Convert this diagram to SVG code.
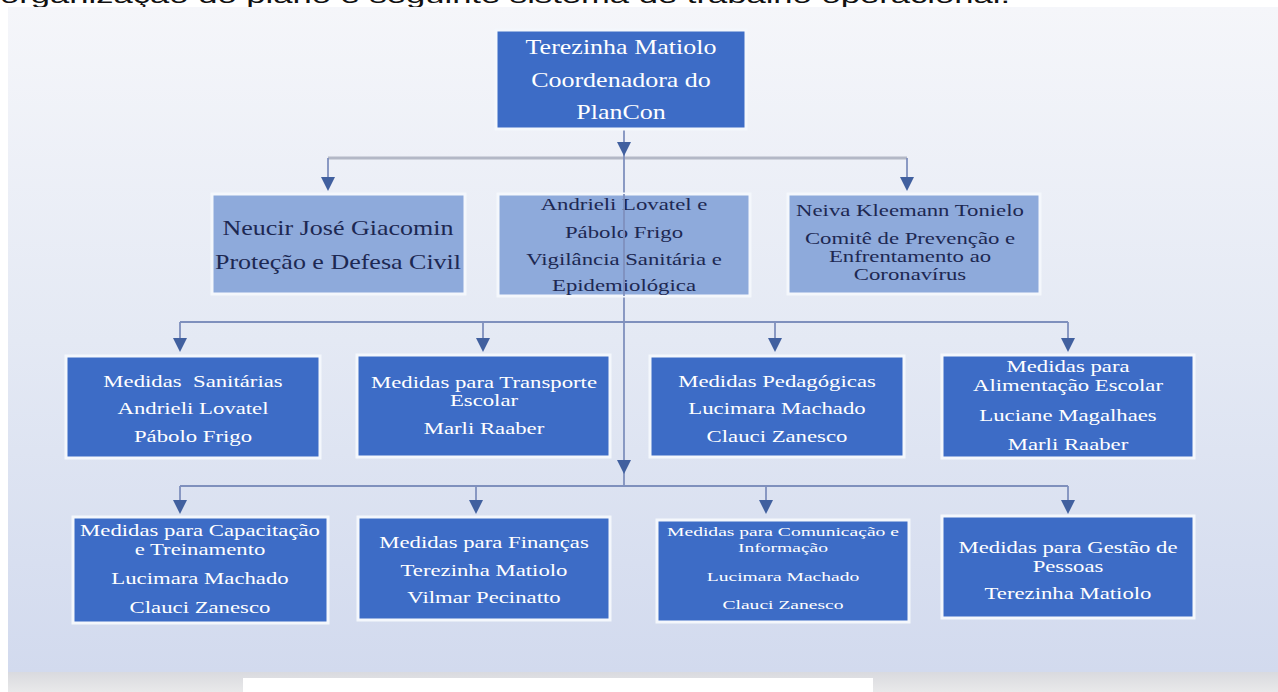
<svg xmlns="http://www.w3.org/2000/svg" xmlns:xlink="http://www.w3.org/1999/xlink" width="1278" height="692" viewBox="0 0 1278 692">
<defs>
<linearGradient id="bg" x1="0" y1="0" x2="0" y2="1">
<stop offset="0" stop-color="#f5f6fa"/>
<stop offset="0.5" stop-color="#e4e9f4"/>
<stop offset="1" stop-color="#d2daee"/>
</linearGradient>
<linearGradient id="strip" x1="0" y1="0" x2="0" y2="1">
<stop offset="0" stop-color="#d9dadf"/>
<stop offset="1" stop-color="#e9e9ea"/>
</linearGradient>
<path id="ah" d="M-7,0 L7,0 L0,14 Z"/>
<style>
.dark{fill:#3d6cc6;stroke:#f4f7fc;stroke-width:3}
.light{fill:#8eaadb;stroke:#f4f7fc;stroke-width:3}
.wt{fill:#ffffff;font-family:"Liberation Serif","Times New Roman",serif;text-anchor:middle}
.bt{fill:#1d2852;font-family:"Liberation Serif","Times New Roman",serif;text-anchor:middle}
.thick{stroke:#b3b8c6;stroke-width:3;fill:none}
.thin{stroke:#7f90bd;stroke-width:1.8;fill:none}
.arr{fill:#41609f}
</style>
</defs>
<rect x="0" y="0" width="1278" height="692" fill="#ffffff"/>
<text x="0" y="3" font-family="Liberation Sans, Arial, sans-serif" font-size="22" fill="#111" textLength="1010" lengthAdjust="spacingAndGlyphs">organização do plano e seguinte sistema de trabalho operacional.</text>
<rect x="8" y="7" width="1270" height="666" fill="url(#bg)"/>
<rect x="8" y="672" width="1270" height="20" fill="url(#strip)"/>
<rect x="243" y="678" width="630" height="14" fill="#ffffff"/>

<g id="connectors">
<path class="thick" d="M328,158 H907"/>
<path class="thin" d="M624,129 V486"/>
<path class="thin" d="M328,158 V178 M907,158 V178"/>
<path class="thin" d="M180,322 H1068 M180,322 V338 M483,322 V338 M775,322 V338 M1068,322 V338"/>
<path class="thin" d="M180,486 H1068 M180,486 V500 M476,486 V500 M766,486 V500 M1068,486 V500"/>
<use href="#ah" class="arr" x="624" y="142"/>
<use href="#ah" class="arr" x="328" y="177"/>
<use href="#ah" class="arr" x="907" y="177"/>
<use href="#ah" class="arr" x="180" y="338"/>
<use href="#ah" class="arr" x="483" y="338"/>
<use href="#ah" class="arr" x="775" y="338"/>
<use href="#ah" class="arr" x="1068" y="338"/>
<use href="#ah" class="arr" x="624" y="460"/>
<use href="#ah" class="arr" x="180" y="500"/>
<use href="#ah" class="arr" x="476" y="500"/>
<use href="#ah" class="arr" x="766" y="500"/>
<use href="#ah" class="arr" x="1068" y="500"/>
</g>

<g id="coord">
<rect class="dark" x="496" y="30" width="250" height="99"/>
<g transform="translate(621,0) scale(1.3,1)" class="wt" font-size="20">
<text x="0" y="54">Terezinha Matiolo</text>
<text x="0" y="87">Coordenadora do</text>
<text x="0" y="119">PlanCon</text>
</g>
</g>

<g id="protecao">
<rect class="light" x="212" y="194" width="253" height="100"/>
<g transform="translate(338,0) scale(1.3,1)" class="bt" font-size="20">
<text x="0" y="235">Neucir José Giacomin</text>
<text x="0" y="269">Proteção e Defesa Civil</text>
</g>
</g>

<g id="vigilancia">
<rect class="light" x="498" y="194" width="252" height="102"/>
<g transform="translate(624,0) scale(1.3,1)" class="bt" font-size="17.5">
<text x="0" y="210">Andrieli Lovatel e</text>
<text x="0" y="238">Pábolo Frigo</text>
<text x="0" y="265">Vigilância Sanitária e</text>
<text x="0" y="291">Epidemiológica</text>
</g>
</g>
<path class="thin" d="M624,194 V296"/>

<g id="comite">
<rect class="light" x="788" y="194" width="252" height="100"/>
<g transform="translate(910,0) scale(1.3,1)" class="bt" font-size="17.5">
<text x="0" y="216">Neiva Kleemann Tonielo</text>
<text x="0" y="244">Comitê de Prevenção e</text>
<text x="0" y="262">Enfrentamento ao</text>
<text x="0" y="280">Coronavírus</text>
</g>
</g>

<g id="sanitarias">
<rect class="dark" x="66" y="356" width="254" height="102"/>
<g transform="translate(193,0) scale(1.3,1)" class="wt" font-size="17.5">
<text x="0" y="387">Medidas&#160; Sanitárias</text>
<text x="0" y="414">Andrieli Lovatel</text>
<text x="0" y="442">Pábolo Frigo</text>
</g>
</g>

<g id="transporte">
<rect class="dark" x="357" y="355" width="253" height="102"/>
<g transform="translate(484,0) scale(1.3,1)" class="wt" font-size="17.5">
<text x="0" y="388">Medidas para Transporte</text>
<text x="0" y="406">Escolar</text>
<text x="0" y="434">Marli Raaber</text>
</g>
</g>

<g id="pedagogicas">
<rect class="dark" x="650" y="356" width="254" height="101"/>
<g transform="translate(777,0) scale(1.3,1)" class="wt" font-size="17.5">
<text x="0" y="387">Medidas Pedagógicas</text>
<text x="0" y="414">Lucimara Machado</text>
<text x="0" y="442">Clauci Zanesco</text>
</g>
</g>

<g id="alimentacao">
<rect class="dark" x="942" y="355" width="252" height="103"/>
<g transform="translate(1068,0) scale(1.3,1)" class="wt" font-size="17.5">
<text x="0" y="372">Medidas para</text>
<text x="0" y="391">Alimentação Escolar</text>
<text x="0" y="421">Luciane Magalhaes</text>
<text x="0" y="450">Marli Raaber</text>
</g>
</g>

<g id="capacitacao">
<rect class="dark" x="73" y="517" width="255" height="106"/>
<g transform="translate(200,0) scale(1.3,1)" class="wt" font-size="17.5">
<text x="0" y="536">Medidas para Capacitação</text>
<text x="0" y="555">e Treinamento</text>
<text x="0" y="584">Lucimara Machado</text>
<text x="0" y="613">Clauci Zanesco</text>
</g>
</g>

<g id="financas">
<rect class="dark" x="358" y="517" width="252" height="103"/>
<g transform="translate(484,0) scale(1.3,1)" class="wt" font-size="17.5">
<text x="0" y="548">Medidas para Finanças</text>
<text x="0" y="576">Terezinha Matiolo</text>
<text x="0" y="603">Vilmar Pecinatto</text>
</g>
</g>

<g id="comunicacao">
<rect class="dark" x="657" y="520" width="252" height="102"/>
<g transform="translate(783,0) scale(1.45,1)" class="wt" font-size="13.5">
<text x="0" y="536">Medidas para Comunicação e</text>
<text x="0" y="552">Informação</text>
<text x="0" y="581">Lucimara Machado</text>
<text x="0" y="609">Clauci Zanesco</text>
</g>
</g>

<g id="gestao">
<rect class="dark" x="942" y="516" width="252" height="102"/>
<g transform="translate(1068,0) scale(1.3,1)" class="wt" font-size="17.5">
<text x="0" y="553">Medidas para Gestão de</text>
<text x="0" y="572">Pessoas</text>
<text x="0" y="599">Terezinha Matiolo</text>
</g>
</g>
</svg>
